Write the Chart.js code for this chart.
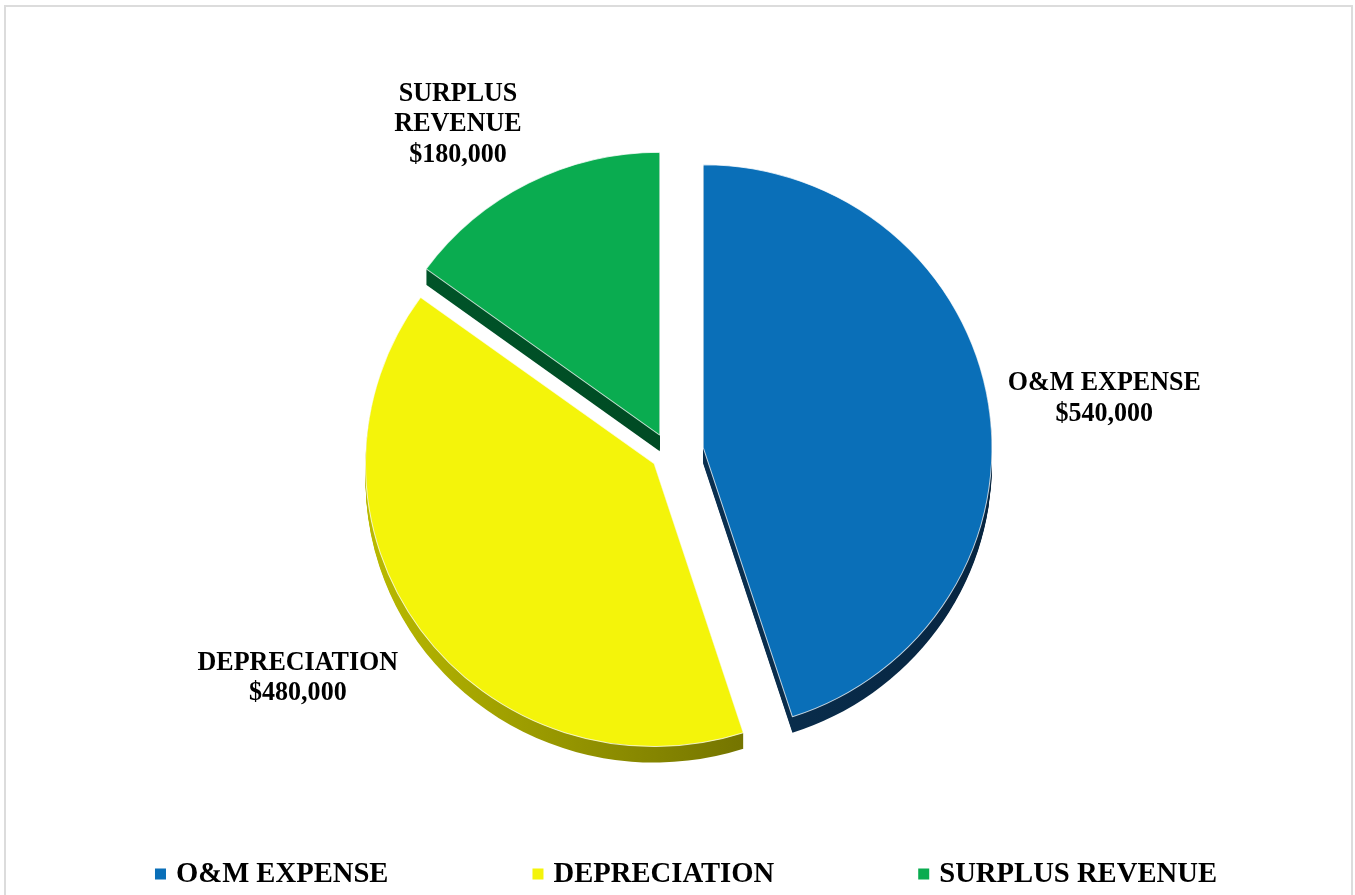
<!DOCTYPE html>
<html>
<head>
<meta charset="utf-8">
<title>Revenue Allocation</title>
<script src="https://cdn.jsdelivr.net/npm/chart.js@4.4.1/dist/chart.umd.min.js"></script>
<style>
  html, body { margin: 0; padding: 0; background: #fff; overflow: hidden; }
  #frame { position: absolute; left: 4px; top: 5px; width: 1349px; height: 1000px; border: 2px solid #dcdcdc; box-sizing: border-box; }
  #wrap { position: absolute; left: 0; top: 0; width: 1355px; height: 895px; }
</style>
</head>
<body>
<div id="frame"></div>
<div id="wrap"><canvas id="pieChart"></canvas></div>
<script>
// categories and amounts
const categories = ['O&M EXPENSE', 'DEPRECIATION', 'SURPLUS REVENUE'];
const amounts = [540000, 480000, 180000];

const sliceColors = ['#0a6fb8', '#f4f40a', '#0aac50'];
const sideColors = [['#0d3a60', '#072540'], ['#baba00', '#505000'], ['#00562a', '#003f1d']];

const serif = '"Liberation Serif", "Times New Roman", serif';

// pull each slice away from the centre by its own distance
const explode = {
    id: 'explode',
    afterDatasetsUpdate(chart, args, opts) {
        chart.getDatasetMeta(0).data.forEach((arc, i) => {
            const mid = (arc.startAngle + arc.endAngle) / 2;
            arc.x += Math.cos(mid) * opts.distance[i];
            arc.y += Math.sin(mid) * opts.distance[i];
        });
    }
};

// fake 3D: slightly wider pie, plus the slice shape drawn a few px lower in a dark shade
const depth = {
    id: 'depth',
    beforeDatasetsDraw(chart, args, opts) {
        const ctx = chart.ctx;
        const cx = (chart.chartArea.left + chart.chartArea.right) / 2;
        ctx.save();
        ctx.translate(cx, 0);
        ctx.scale(opts.stretchX, 1);
        ctx.translate(-cx, 0);
        chart.getDatasetMeta(0).data.forEach((arc, i) => {
            const r = arc.outerRadius;
            const g = ctx.createLinearGradient(arc.x - r, 0, arc.x + r, 0);
            g.addColorStop(0, opts.colors[i][0]);
            g.addColorStop(1, opts.colors[i][1]);
            ctx.save();
            ctx.fillStyle = g;
            for (let k = opts.size; k > 0; k--) {
                ctx.beginPath();
                ctx.moveTo(arc.x, arc.y + k);
                ctx.arc(arc.x, arc.y + k, r, arc.startAngle, arc.endAngle);
                ctx.closePath();
                ctx.fill();
            }
            ctx.restore();
        });
    },
    afterDatasetsDraw(chart) {
        chart.ctx.restore();
    }
};

function wrapText(ctx, text, maxWidth, sx) {
    if (ctx.measureText(text).width * sx <= maxWidth) return [text];
    return text.split(' ');
}

// category + value labels outside each slice
const sliceLabels = {
    id: 'sliceLabels',
    afterDatasetsDraw(chart, args, opts) {
        const ctx = chart.ctx;
        const values = chart.data.datasets[0].data;
        ctx.save();
        ctx.font = opts.font;
        ctx.fillStyle = opts.color;
        ctx.textAlign = 'center';
        ctx.textBaseline = 'middle';
        chart.getDatasetMeta(0).data.forEach((arc, i) => {
            const lines = wrapText(ctx, chart.data.labels[i], opts.maxWidth, opts.scaleX);
            lines.push('$' + values[i].toLocaleString('en-US'));
            const ang = (arc.startAngle + arc.endAngle) / 2 + opts.angleShift[i] * Math.PI / 180;
            const d = arc.outerRadius * opts.distance[i];
            const cx = arc.x + Math.cos(ang) * d;
            const cy = arc.y + Math.sin(ang) * d;
            const top = cy - (lines.length - 1) * opts.lineHeight / 2;
            lines.forEach((t, j) => {
                ctx.save();
                ctx.translate(cx, top + j * opts.lineHeight);
                ctx.scale(opts.scaleX, 1);
                ctx.fillText(t, 0, 0);
                ctx.restore();
            });
        });
        ctx.restore();
    }
};

// legend row along the bottom
const bottomLegend = {
    id: 'bottomLegend',
    afterDraw(chart, args, opts) {
        const ctx = chart.ctx;
        const colors = chart.data.datasets[0].backgroundColor;
        ctx.save();
        ctx.font = opts.font;
        ctx.textBaseline = 'middle';
        ctx.textAlign = 'left';
        const widths = chart.data.labels.map(l => ctx.measureText(l).width * opts.scaleX);
        const total = widths.reduce((s, w) => s + opts.box + opts.boxGap + w, 0) + opts.itemGap * (widths.length - 1);
        let x = opts.centerX - total / 2;
        chart.data.labels.forEach((l, i) => {
            ctx.fillStyle = colors[i];
            ctx.fillRect(x, opts.y - opts.box / 2, opts.box, opts.box);
            x += opts.box + opts.boxGap;
            ctx.fillStyle = opts.color;
            ctx.save();
            ctx.translate(x, opts.y);
            ctx.scale(opts.scaleX, 1);
            ctx.fillText(l, 0, 0);
            ctx.restore();
            x += widths[i] + opts.itemGap;
        });
        ctx.restore();
    }
};

const pieCanvas = document.getElementById('pieChart');

const pieChart = new Chart(pieCanvas, {
    type: 'pie',
    data: {
        labels: categories,
        datasets: [{
            data: amounts,
            backgroundColor: sliceColors,
            borderColor: 'rgba(255,255,255,0.75)',
            borderWidth: 1,
            hoverOffset: 0,
            clip: false
        }]
    },
    options: {
        responsive: true,
        maintainAspectRatio: false,
        animation: false,
        events: [],
        radius: 283,
        layout: { padding: { left: 0, right: 17, top: 11, bottom: 0 } },
        plugins: {
            legend: { display: false },
            tooltip: { enabled: false },
            explode: { distance: [34, 18, 20] },
            depth: { size: 16, colors: sideColors, stretchX: 1.02 },
            sliceLabels: {
                font: 'bold 28px ' + serif,
                color: '#000',
                scaleX: 0.93,
                maxWidth: 230,
                lineHeight: 30.5,
                distance: [1.43, 1.47, 1.31],
                angleShift: [2, 5, -6]
            },
            bottomLegend: {
                font: 'bold 30px ' + serif,
                color: '#000',
                scaleX: 0.955,
                box: 11,
                boxGap: 10,
                itemGap: 144,
                centerX: 686,
                y: 874
            }
        }
    },
    plugins: [explode, depth, sliceLabels, bottomLegend]
});
</script>
</body>
</html>
